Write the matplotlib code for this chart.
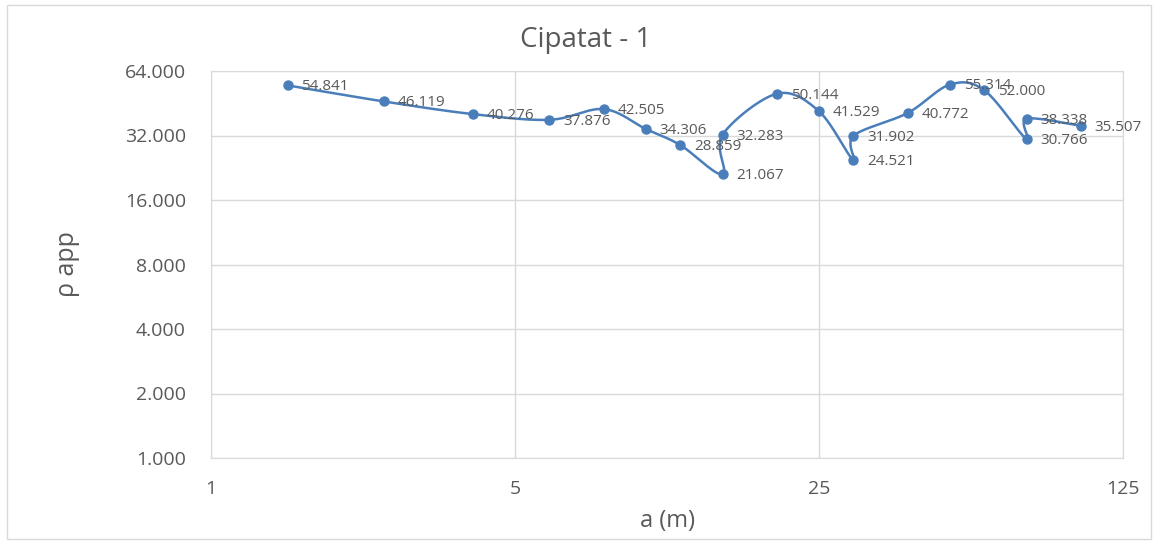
import numpy as np
import matplotlib.pyplot as plt
from matplotlib.ticker import FixedLocator, FixedFormatter, NullLocator
from matplotlib.patches import Rectangle

plt.rcParams['font.family'] = ['Open Sans', 'DejaVu Sans']

spacing = [1.5, 2.5, 4, 6, 8, 10, 12, 15, 15, 20, 25, 30, 30, 40, 50, 60, 75, 75, 100]
rho_app = [54.841, 46.119, 40.276, 37.876, 42.505, 34.306, 28.859, 21.067, 32.283,
           50.144, 41.529, 24.521, 31.902, 40.772, 55.314, 52.000, 30.766, 38.338, 35.507]
x_ticks = [1, 5, 25, 125]
y_ticks = [1, 2, 4, 8, 16, 32, 64]

blue = '#4a7ebb'
grid_col = '#d9d9d9'
text_col = '#595959'


def smooth_curve(xs, ys, n=30):
    # excel-like smoothed line, done in log space
    lx = np.log(np.array(xs, dtype=float))
    ly = np.log(np.array(ys, dtype=float))
    pts = np.column_stack([lx, ly])
    out = []
    for i in range(len(pts) - 1):
        p0 = pts[i - 1] if i > 0 else pts[i]
        p1 = pts[i]
        p2 = pts[i + 1]
        p3 = pts[i + 2] if i + 2 < len(pts) else pts[i + 1]
        c1 = p1 + (p2 - p0) / 6
        c2 = p2 - (p3 - p1) / 6
        t = np.linspace(0, 1, n)[:, None]
        seg = ((1 - t) ** 3) * p1 + 3 * ((1 - t) ** 2) * t * c1 + 3 * (1 - t) * t ** 2 * c2 + t ** 3 * p2
        out.append(seg)
    curve = np.vstack(out)
    return np.exp(curve[:, 0]), np.exp(curve[:, 1])


def fmt(v):
    return '{:.3f}'.format(v)


fig = plt.figure(figsize=(11.58, 5.42), dpi=100)
fig.patches.append(Rectangle((0.006, 0.006), 0.988, 0.985, transform=fig.transFigure,
                             fill=False, edgecolor=grid_col, linewidth=1))
ax = fig.add_axes([211 / 1158, 1 - 458 / 542, (1123 - 211) / 1158, (458 - 71) / 542])

ax.set_xscale('log')
ax.set_yscale('log')
ax.set_xlim(1, 125)
ax.set_ylim(1, 64)

cx, cy = smooth_curve(spacing, rho_app)
ax.plot(cx, cy, color=blue, linewidth=1.8, zorder=3)
ax.plot(spacing, rho_app, 'o', color=blue, markersize=6.5, zorder=4)

for xv, yv in zip(spacing, rho_app):
    ax.annotate(fmt(yv), (xv, yv), xytext=(10, -1), textcoords='offset points',
                fontsize=11, color=text_col, va='center', ha='left', zorder=5)

ax.xaxis.set_major_locator(FixedLocator(x_ticks))
ax.xaxis.set_major_formatter(FixedFormatter([str(v) for v in x_ticks]))
ax.xaxis.set_minor_locator(NullLocator())
ax.yaxis.set_major_locator(FixedLocator(y_ticks))
ax.yaxis.set_major_formatter(FixedFormatter([fmt(v) for v in y_ticks]))
ax.yaxis.set_minor_locator(NullLocator())

ax.grid(True, color=grid_col, linewidth=1)
ax.set_axisbelow(True)
for s in ax.spines.values():
    s.set_color(grid_col)
ax.tick_params(length=0, labelsize=14, colors=text_col)
ax.tick_params(axis='x', pad=16)
ax.tick_params(axis='y', pad=18)

fig.text(586 / 1158, 1 - 40 / 542, 'Cipatat - 1', fontsize=20, color=text_col,
         ha='center', va='center')
ax.set_xlabel('a (m)', fontsize=17, color=text_col, labelpad=8)
ax.set_ylabel('ρ app', fontsize=18, color=text_col, labelpad=32)

fig.savefig('out.png', dpi=100)
